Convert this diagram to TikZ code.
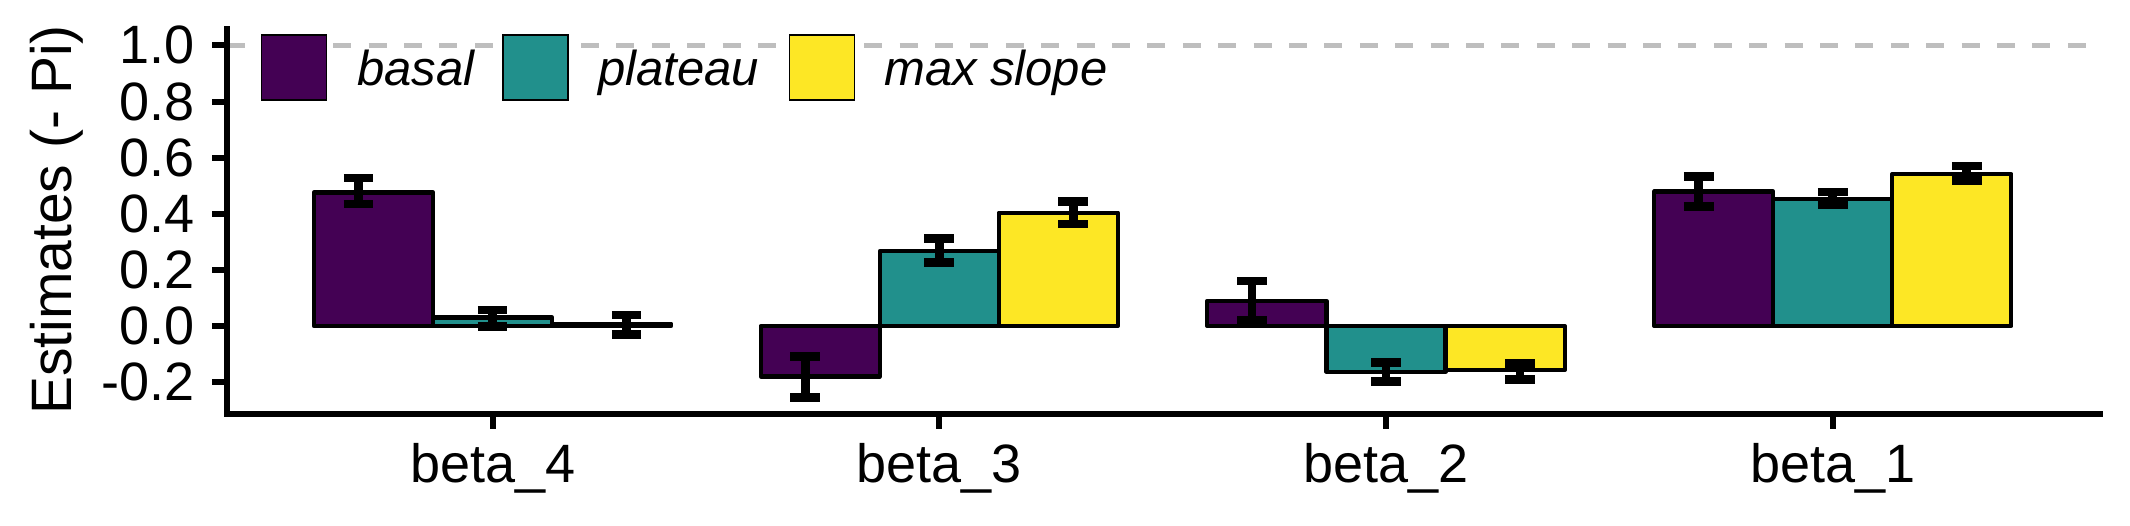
\documentclass[tikz,border=0pt]{standalone}
\usepackage{fontspec}
\setmainfont{Liberation Sans}
\definecolor{cbasal}{HTML}{440154}
\definecolor{cplat}{HTML}{21908C}
\definecolor{cmax}{HTML}{FDE725}
\definecolor{refgray}{HTML}{BEBEBE}
\newcommand{\mybar}[3]{\draw[barbox, fill=#3] (#1,0) rectangle ++(119.1,#2);}
\newcommand{\myerr}[3]{\draw[errbar] (#1-14.85,#3) -- (#1+14.85,#3) (#1,#3) -- (#1,#2) (#1-14.85,#2) -- (#1+14.85,#2);}
\begin{document}
\begin{tikzpicture}[x=1pt,y=-1pt,
  barbox/.style={draw=black, line width=4.2pt, line join=round},
  errbar/.style={draw=black, line width=8.5pt},
  axisline/.style={draw=black, line width=6pt},
  ticklab/.style={font=\fontsize{54}{54}\selectfont, inner sep=0pt},
  legtext/.style={font=\fontsize{49}{49}\selectfont\itshape, inner sep=0pt, anchor=base west},
  legkey/.style={draw=black, line width=1.5pt}]
\useasboundingbox (0,0) rectangle (2130,525);

% reference line at 1.0
\draw[refgray, line width=4.5pt, dash pattern=on 18pt off 17.4pt] (227,45.4) -- (2103,45.4);

% bars and error bars
\begin{scope}[shift={(0,326)}, y=280.6pt]
  % beta_4
  \mybar{313.95}{0.476}{cbasal}
  \mybar{433.05}{0.030}{cplat}
  \mybar{552.15}{0.008}{cmax}
  % beta_3
  \mybar{760.65}{-0.180}{cbasal}
  \mybar{879.75}{0.267}{cplat}
  \mybar{998.85}{0.404}{cmax}
  % beta_2
  \mybar{1207.35}{0.090}{cbasal}
  \mybar{1326.45}{-0.163}{cplat}
  \mybar{1445.55}{-0.157}{cmax}
  % beta_1
  \mybar{1654.05}{0.479}{cbasal}
  \mybar{1773.15}{0.453}{cplat}
  \mybar{1892.25}{0.542}{cmax}
  % error bars
  \myerr{358.6}{0.434}{0.527}
  \myerr{492.6}{-0.001}{0.057}
  \myerr{626.6}{-0.031}{0.039}
  \myerr{805.3}{-0.255}{-0.109}
  \myerr{939.3}{0.226}{0.312}
  \myerr{1073.3}{0.363}{0.444}
  \myerr{1252}{0.020}{0.160}
  \myerr{1386}{-0.197}{-0.130}
  \myerr{1520}{-0.190}{-0.134}
  \myerr{1698.7}{0.426}{0.533}
  \myerr{1832.7}{0.431}{0.477}
  \myerr{1966.7}{0.519}{0.571}
\end{scope}

% axes
\draw[axisline] (227,26) -- (227,417);
\draw[axisline] (224,414) -- (2103,414);
\foreach \yy in {45.4,101.5,157.6,213.8,269.9,326,382.1}
  \draw[axisline] (212,\yy) -- (227,\yy);
\foreach \xx in {492.6,939.3,1386,1832.7}
  \draw[axisline] (\xx,414) -- (\xx,428.5);

% y tick labels
\node[ticklab, anchor=east] (y10) at (195,45.4) {1.0};
\node[ticklab, anchor=east] (y08) at (195,101.5) {0.8};
\node[ticklab, anchor=east] (y06) at (195,157.6) {0.6};
\node[ticklab, anchor=east] (y04) at (195,213.8) {0.4};
\node[ticklab, anchor=east] (y02) at (195,269.9) {0.2};
\node[ticklab, anchor=east] (y00) at (195,326) {0.0};
\node[ticklab, anchor=east] (ym02) at (195,382.1) {-0.2};

% x tick labels
\node[ticklab, anchor=base] (x4) at (492.6,482) {beta\_4};
\node[ticklab, anchor=base] (x3) at (939.3,482) {beta\_3};
\node[ticklab, anchor=base] (x2) at (1386,482) {beta\_2};
\node[ticklab, anchor=base] (x1) at (1832.7,482) {beta\_1};

% y axis title
\node[font=\fontsize{57}{57}\selectfont, rotate=90, anchor=base, inner sep=0pt] (ytitle) at (71.4,220) {Estimates (- Pi)};

% legend
\draw[legkey, fill=cbasal] (261.7,35) rectangle (326.7,100);
\draw[legkey, fill=cplat] (503,35) rectangle (568,100);
\draw[legkey, fill=cmax] (789.3,35) rectangle (854.3,100);
\node[legtext] (lbasal) at (357,85) {basal};
\node[legtext] (lplat) at (598,85) {plateau};
\node[legtext] (lmax) at (884,85) {max slope};
\end{tikzpicture}
\end{document}
